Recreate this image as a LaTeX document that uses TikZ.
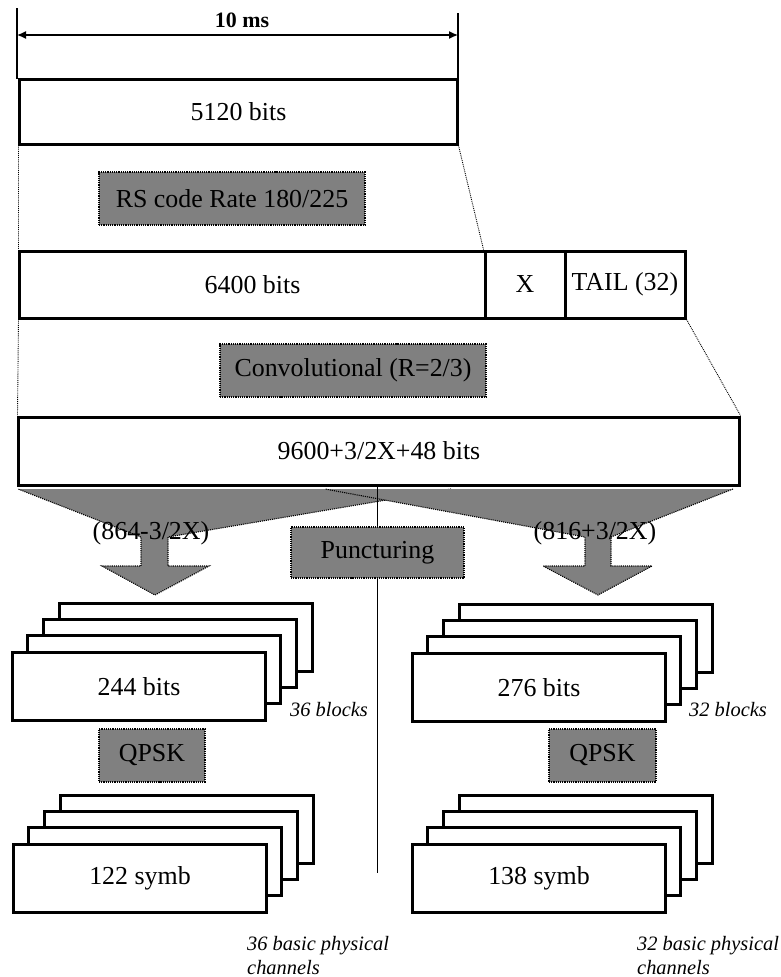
\documentclass[tikz,border=0pt]{standalone}
\usepackage{fontspec}
\setmainfont{Liberation Serif}
\usetikzlibrary{arrows.meta}
\definecolor{shade}{HTML}{808080}

% a stack of four blocks: name, left x and top y of the front block, label
\newcommand{\blockstack}[4]{%
  \foreach \k in {3,2,1}{%
    \draw[frame] ({#2+16*\k},{#3-16*\k}) rectangle ++(253,68);
  }
  \node[frame, minimum width=253bp, minimum height=68bp, anchor=north west] (#1) at (#2,#3) {#4};
}

\begin{document}
\begin{tikzpicture}[x=1bp, y=-1bp,
  every node/.style={font=\fontsize{26}{30}\selectfont, inner sep=0pt},
  frame/.style={draw=black, line width=3bp, fill=white},
  codebox/.style={draw=black, densely dotted, line width=1.2bp, fill=shade},
  guide/.style={densely dotted, line width=0.9bp},
  funnelfill/.style={fill=shade},
  funnelrim/.style={densely dotted, line width=1.1bp},
  note/.style={font=\fontsize{20.5}{24}\selectfont\itshape},
  dimline/.style={line width=1.3bp}]
\useasboundingbox (0,0) rectangle (781,977);

% ---- frame length marker
\coordinate (dlt) at (17,8);
\coordinate (dlb) at (17,79);
\coordinate (drt) at (458,13);
\coordinate (drb) at (458,79);
\coordinate (dal) at (17,35);
\coordinate (dar) at (458,35);
\draw[dimline] (dlt) -- (dlb);
\draw[dimline] (drt) -- (drb);
\draw[dimline, {Latex[length=9bp,width=8bp]}-{Latex[length=9bp,width=8bp]}] (dal) -- (dar);
\node[font=\fontsize{22}{26}\selectfont\bfseries] (dim) at (242,20) {10 ms};

% ---- coding chain
\node[frame, minimum width=437bp, minimum height=65bp] (b5120) at (238.5,111.5) {5120 bits};
\node[codebox, minimum width=266bp, minimum height=53bp] (rs) at (232,198.5) {RS code Rate 180/225};
\node[frame, minimum width=465bp, minimum height=67bp] (b6400) at (252.5,284.5) {6400 bits};
\node[frame, minimum width=80bp, minimum height=67bp] (bx) at (525,284.5) {X};
\node[frame, minimum width=120bp, minimum height=67bp] (btail) at (625,284.5) {TAIL (32)};
\node[codebox, minimum width=266bp, minimum height=53bp] (conv) at (353,370.5) {Convolutional (R=2/3)};
\node[frame, minimum width=720bp, minimum height=68bp] (b9600) at (379,451) {9600+3/2X+48 bits};

\draw[guide] (b5120.south west) -- (b6400.north west);
\draw[guide] (b5120.south east) -- (bx.north west);
\draw[guide] (b6400.south west) -- (b9600.north west);
\draw[guide] (btail.south east) -- (b9600.north east);

% ---- split into two block arrows
\fill[funnelfill] (18,489) -- (451,489) -- (168,537) -- (168,566) -- (209,566) -- (155,595)
  -- (102,566) -- (141,566) -- (141,537) -- cycle;
\draw[funnelrim] (451,489) -- (168,537) -- (168,566) -- (209,566) -- (155,595)
  -- (102,566) -- (141,566) -- (141,537) -- (18,489);
\fill[funnelfill] (325,489) -- (733,489) -- (611,537) -- (611,566) -- (652,566) -- (598,595)
  -- (543,566) -- (585,566) -- (585,537) -- cycle;
\draw[funnelrim] (733,489) -- (611,537) -- (611,566) -- (652,566) -- (598,595)
  -- (543,566) -- (585,566) -- (585,537) -- (325,489);

\coordinate (pc) at (377.5,552.5);
\coordinate (cend) at (377.5,873);
\draw[line width=1bp] (b9600.south -| pc) -- (cend);
\node[codebox, minimum width=173bp, minimum height=51bp] (punct) at (pc) {Puncturing};

\node (lsplit) at (151,533) {(864-3/2X)};
\node (rsplit) at (595,533) {(816+3/2X)};

% ---- block stacks
\blockstack{s244}{11}{651}{244 bits}
\blockstack{s276}{411}{652}{276 bits}
\node[codebox, minimum width=106bp, minimum height=53bp] (qpskl) at (152,755.5) {QPSK};
\node[codebox, minimum width=107bp, minimum height=53bp] (qpskr) at (602.5,755.5) {QPSK};
\blockstack{s122}{12}{843}{122 symb}
\blockstack{s138}{411}{843}{138 symb}

\node[note] (nbl) at (329,710) {36 blocks};
\node[note] (nbr) at (728,710) {32 blocks};
\node[note, align=left, anchor=base west] (ncl) at (247,974) {36 basic physical\\channels};
\node[note, align=left, anchor=base west] (ncr) at (637,974) {32 basic physical\\channels};
\end{tikzpicture}
\end{document}
